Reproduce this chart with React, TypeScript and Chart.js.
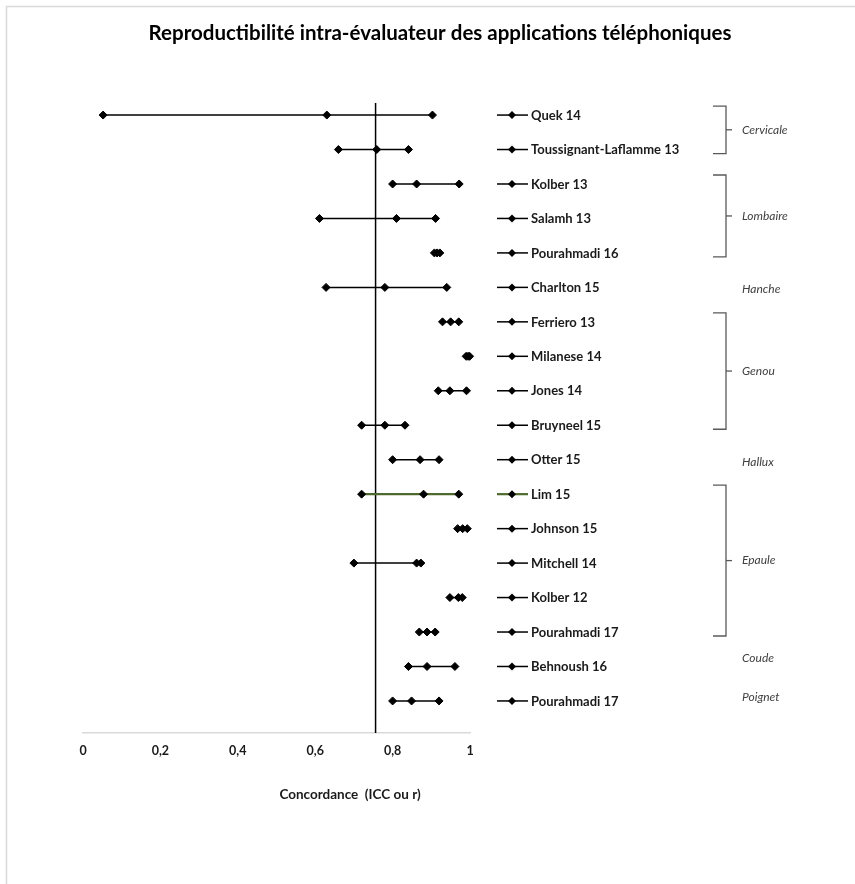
import React, { useEffect, useRef } from "react";
import { Chart, registerables } from "chart.js";

Chart.register(...registerables);

const studies = [
  "Quek 14",
  "Toussignant-Laflamme 13",
  "Kolber 13",
  "Salamh 13",
  "Pourahmadi 16",
  "Charlton 15",
  "Ferriero 13",
  "Milanese 14",
  "Jones 14",
  "Bruyneel 15",
  "Otter 15",
  "Lim 15",
  "Johnson 15",
  "Mitchell 14",
  "Kolber 12",
  "Pourahmadi 17",
  "Behnoush 16",
  "Pourahmadi 17",
];
const lows = [0.052, 0.66, 0.8, 0.611, 0.908, 0.628, 0.929, 0.99, 0.918, 0.72, 0.8, 0.72, 0.968, 0.7, 0.948, 0.869, 0.841, 0.8];
const points = [0.63, 0.759, 0.862, 0.81, 0.915, 0.78, 0.95, 0.995, 0.948, 0.78, 0.871, 0.88, 0.981, 0.862, 0.97, 0.889, 0.889, 0.849];
const highs = [0.903, 0.841, 0.972, 0.911, 0.922, 0.94, 0.971, 0.999, 0.991, 0.832, 0.92, 0.971, 0.993, 0.873, 0.98, 0.91, 0.961, 0.92];
const highlightedRow = 12; // "Lim 15"

const referenceValue = 0.756;
const xTickLabels = ["0", "0,2", "0,4", "0,6", "0,8", "1"];

const groupNames = ["Cervicale", "Lombaire", "Hanche", "Genou", "Hallux", "Epaule", "Coude", "Poignet"];
const groupFirst = [1, 3, 6, 7, 11, 12, 17, 18];
const groupLast = [2, 5, 6, 10, 11, 16, 17, 18];

const title = "Reproductibilité intra-évaluateur des applications téléphoniques";
const xTitle = "Concordance  (ICC ou r)";

const GREEN = "#4f6a2e";
const FONT = "Lato, 'Open Sans', sans-serif";

export default function App() {
  const ref = useRef<HTMLCanvasElement | null>(null);

  useEffect(() => {
    document.body.style.margin = "0";
    const canvas = ref.current;
    if (!canvas) return;

    const yMin = 0.65;
    const yMax = 18.93;

    const datasets: any[] = studies.map((s, i) => {
      const hl = i + 1 === highlightedRow;
      return {
        type: "line",
        label: s,
        data: [
          { x: lows[i], y: i + 1 },
          { x: points[i], y: i + 1 },
          { x: highs[i], y: i + 1 },
        ],
        borderColor: hl ? GREEN : "#000000",
        borderWidth: hl ? 2.2 : 1.5,
        pointStyle: "rectRot",
        pointRadius: 4,
        pointBackgroundColor: "#000000",
        pointBorderColor: "#000000",
        pointBorderWidth: 1,
        tension: 0,
        clip: false,
      };
    });
    datasets.push({
      type: "line",
      label: "ref",
      data: [
        { x: referenceValue, y: yMin },
        { x: referenceValue, y: yMax },
      ],
      borderColor: "#000000",
      borderWidth: 1.5,
      pointRadius: 0,
      clip: false,
    });

    const overlay = {
      id: "overlay",
      afterDraw(chart: any) {
        const ctx = chart.ctx as CanvasRenderingContext2D;
        const area = chart.chartArea;
        const ys = chart.scales.y;
        ctx.save();
        // frame
        ctx.strokeStyle = "#d9d9d9";
        ctx.lineWidth = 1.5;
        ctx.beginPath();
        ctx.moveTo(6.5, 900);
        ctx.lineTo(6.5, 6.5);
        ctx.lineTo(900, 6.5);
        ctx.stroke();

        // title
        ctx.fillStyle = "#000000";
        ctx.font = `bold 20.5px ${FONT}`;
        ctx.textAlign = "center";
        ctx.textBaseline = "middle";
        ctx.fillText(title, 440, 33);

        // axis title
        ctx.fillStyle = "#1a1a1a";
        ctx.font = `bold 13.5px ${FONT}`;
        ctx.fillText(xTitle, 350, 795);

        // right-hand legend entries
        const lx0 = area.right + 27;
        const lx1 = area.right + 58;
        const dx = area.right + 42;
        ctx.textAlign = "left";
        ctx.font = `bold 13px ${FONT}`;
        studies.forEach((s, i) => {
          const y = ys.getPixelForValue(i + 1);
          const hl = i + 1 === highlightedRow;
          ctx.strokeStyle = hl ? GREEN : "#000000";
          ctx.lineWidth = hl ? 2.2 : 1.5;
          ctx.beginPath();
          ctx.moveTo(lx0, y);
          ctx.lineTo(lx1, y);
          ctx.stroke();
          ctx.fillStyle = "#000000";
          ctx.beginPath();
          ctx.moveTo(dx, y - 4);
          ctx.lineTo(dx + 4, y);
          ctx.lineTo(dx, y + 4);
          ctx.lineTo(dx - 4, y);
          ctx.closePath();
          ctx.fill();
          ctx.fillStyle = "#1a1a1a";
          ctx.fillText(s, area.right + 61, y + 0.5);
        });

        // brackets + group labels
        const bx = area.right + 256;
        ctx.strokeStyle = "#595959";
        ctx.lineWidth = 1.3;
        groupNames.forEach((g, k) => {
          const yA = ys.getPixelForValue(groupFirst[k]);
          const yB = ys.getPixelForValue(groupLast[k]);
          let mid = (yA + yB) / 2;
          if (groupLast[k] > groupFirst[k]) {
            const top = yA - 9;
            const bot = yB + 4;
            mid = (top + bot) / 2;
            ctx.beginPath();
            ctx.moveTo(bx - 13, top);
            ctx.lineTo(bx, top);
            ctx.lineTo(bx, bot);
            ctx.lineTo(bx - 13, bot);
            ctx.stroke();
            ctx.beginPath();
            ctx.moveTo(bx, mid);
            ctx.lineTo(bx + 6, mid);
            ctx.stroke();
          } else if (g === "Coude") {
            mid = yA - 8;
          } else if (g === "Poignet") {
            mid = yA - 4;
          } else {
            mid = yA + 2;
          }
          ctx.fillStyle = "#404040";
          ctx.font = `italic 12px ${FONT}`;
          ctx.fillText(g, bx + 16, mid);
        });
        ctx.restore();
      },
    };

    const chart = new Chart(canvas, {
      type: "line",
      data: { datasets },
      plugins: [overlay],
      options: {
        animation: false,
        responsive: false,
        events: [],
        layout: { padding: { left: 83, right: 385, top: 103, bottom: 74 } },
        plugins: {
          legend: { display: false },
          tooltip: { enabled: false },
          title: { display: false },
        },
        scales: {
          x: {
            type: "linear",
            min: 0,
            max: 1,
            grid: { display: false, drawTicks: false },
            border: { display: true, color: "#d9d9d9", width: 1.5 },
            ticks: {
              stepSize: 0.2,
              padding: 10,
              color: "#1a1a1a",
              font: { family: FONT, size: 12.5, weight: "bold" },
              callback: (_v: any, idx: number) => xTickLabels[idx],
              maxRotation: 0,
            },
            afterFit: (scale: any) => {
              scale.height = 77;
              scale.paddingLeft = 0;
              scale.paddingRight = 0;
            },
          },
          y: {
            type: "linear",
            reverse: true,
            min: yMin,
            max: yMax,
            display: false,
          },
        },
      } as any,
    });
    return () => chart.destroy();
  }, []);

  return (
    <div style={{ width: 855, height: 884, background: "#ffffff" }}>
      <canvas ref={ref} width={855} height={884} style={{ width: 855, height: 884, display: "block" }} />
    </div>
  );
}
